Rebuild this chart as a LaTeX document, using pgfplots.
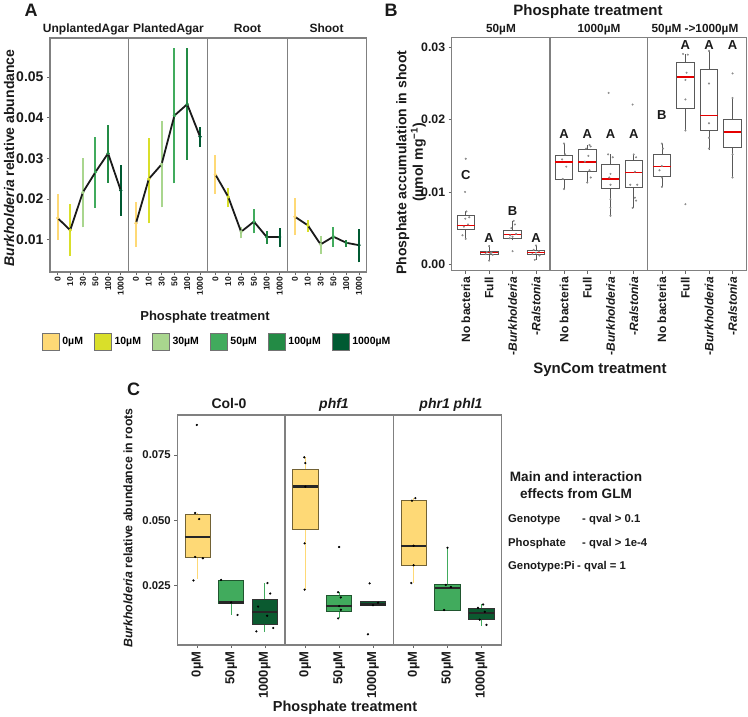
\documentclass[border=0pt]{standalone}
\usepackage{fontspec}
\setmainfont{Liberation Sans}
\usepackage{pgfplots}
\pgfplotsset{compat=1.18}

\definecolor{c0}{HTML}{FED976}
\definecolor{c10}{HTML}{D9DF2A}
\definecolor{c30}{HTML}{A9D68E}
\definecolor{c50}{HTML}{41AB5D}
\definecolor{c100}{HTML}{238B45}
\definecolor{c1000}{HTML}{005A32}
\definecolor{cdark}{HTML}{0B5A30}
\definecolor{frame}{HTML}{808080}
\definecolor{txt}{HTML}{1A1A1A}

\newcommand{\fs}[1]{\fontsize{#1}{#1}\selectfont\bfseries}
\newcommand{\eb}[4]{\addplot[draw=#1, line width=2pt, forget plot] coordinates {(#2,#3) (#2,#4)};}
% box: #1 pos, #2 lower whisker, #3 lower quartile, #4 median, #5 upper quartile, #6 upper whisker
\newcommand{\bbox}[6]{%
  \pgfmathsetmacro{\xl}{#1-0.375}\pgfmathsetmacro{\xr}{#1+0.375}%
  \addplot[forget plot, draw=black!65, line width=0.6pt] coordinates {(#1,#2) (#1,#3)};
  \addplot[forget plot, draw=black!65, line width=0.6pt] coordinates {(#1,#5) (#1,#6)};
  \addplot[forget plot, draw=black!65, fill=white, line width=0.8pt] coordinates {(\xl,#3) (\xr,#3) (\xr,#5) (\xl,#5)} -- cycle;
  \addplot[forget plot, draw=red!90!black, line width=1.5pt] coordinates {(\xl,#4) (\xr,#4)};
}
% C box: #1 fill, #2 border, #3 whisker colour, #4 pos, #5 lw, #6 lq, #7 med, #8 uq, #9 uw
\newcommand{\cbox}[9]{%
  \pgfmathsetmacro{\xl}{#4-0.375}\pgfmathsetmacro{\xr}{#4+0.375}%
  \addplot[forget plot, draw=#3, line width=1pt] coordinates {(#4,#5) (#4,#6)};
  \addplot[forget plot, draw=#3, line width=1pt] coordinates {(#4,#8) (#4,#9)};
  \addplot[forget plot, draw=#2, fill=#1, line width=0.7pt] coordinates {(\xl,#6) (\xr,#6) (\xr,#8) (\xl,#8)} -- cycle;
  \addplot[forget plot, draw=black!85, line width=2.3pt] coordinates {(\xl,#7) (\xr,#7)};
}

\pgfplotsset{
  base/.style={scale only axis, anchor=south west,
    axis line style={draw=frame, line width=1.1pt},
    tick style={draw=black!60, line width=0.6pt},
    tick align=outside, major tick length=3pt, tick pos=left,
    scaled ticks=false, every tick label/.append style={text=txt}},
  fa/.style={base, height=234pt, xmin=0.4, xmax=6.6, ymin=0.002, ymax=0.0596,
    xtick={1,2,3,4,5,6}, xticklabels={0,10,30,50,100,1000},
    xticklabel style={rotate=90, anchor=east, font=\fs{8.5}, inner sep=1.5pt}},
  fb/.style={base, height=233.4pt, xmin=0.4, xmax=4.6, ymin=-0.0009, ymax=0.0314,
    xtick={1,2,3,4}, xticklabels={No bacteria, Full, -\textit{Burkholderia}, -\textit{Ralstonia}},
    xticklabel style={rotate=90, anchor=east, font=\fs{12}}},
  fc/.style={base, height=230pt, xmin=0.4, xmax=3.6, ymin=0.0023, ymax=0.0903,
    xtick={1,2,3}, xticklabels={0µM,50µM,1000µM},
    xticklabel style={rotate=90, anchor=east, font=\fs{13}}},
  pts/.style={forget plot, scatter, only marks, mark=*, mark size=1.5pt, scatter src=explicit symbolic,
    scatter/classes={a={draw=c0,fill=c0}, b={draw=c10,fill=c10}, c={draw=c30,fill=c30},
      d={draw=c50,fill=c50}, e={draw=c100,fill=c100}, f={draw=c1000,fill=c1000}}},
  bpts/.style={forget plot, only marks, mark=*, mark size=0.8pt, draw=black!45, fill=black!45},
  cpts/.style={forget plot, only marks, mark=*, mark size=0.9pt, draw=black, fill=black},
}

\begin{document}
\begin{tikzpicture}
\useasboundingbox (0pt,0pt) rectangle (748pt,-716pt);

% ================= PANEL A =================
\begin{axis}[fa, at={(50pt,-272pt)}, width=78.3pt,
  ytick={0.01,0.02,0.03,0.04,0.05}, yticklabels={0.01,0.02,0.03,0.04,0.05},
  yticklabel style={font=\fs{14}},
  legend columns=6,
  legend style={at={(axis description cs:-0.106,-0.299)}, anchor=west, draw=none, fill=none,
    inner sep=0pt, font=\fs{10.5}, nodes={inner xsep=3pt, inner ysep=0pt},
    /tikz/every even column/.append style={column sep=8pt}},
  legend image code/.code={\draw[#1] (0pt,-8.5pt) rectangle (17pt,8.5pt);}]
\addlegendimage{fill=c0, draw=black!55, line width=0.5pt}\addlegendentry{0µM}
\addlegendimage{fill=c10, draw=black!55, line width=0.5pt}\addlegendentry{10µM}
\addlegendimage{fill=c30, draw=black!55, line width=0.5pt}\addlegendentry{30µM}
\addlegendimage{fill=c50, draw=black!55, line width=0.5pt}\addlegendentry{50µM}
\addlegendimage{fill=c100, draw=black!55, line width=0.5pt}\addlegendentry{100µM}
\addlegendimage{fill=c1000, draw=black!55, line width=0.5pt}\addlegendentry{1000µM}
\eb{c0}{1}{0.0099}{0.0211}
\eb{c10}{2}{0.0059}{0.0187}
\eb{c30}{3}{0.0130}{0.0300}
\eb{c50}{4}{0.0178}{0.0353}
\eb{c100}{5}{0.0240}{0.0383}
\eb{c1000}{6}{0.0158}{0.0283}
\addplot[forget plot, txt, line width=1.8pt] coordinates {(1,0.0153) (2,0.0123) (3,0.0216) (4,0.0266) (5,0.0312) (6,0.0221)};
\addplot[pts] coordinates {(1,0.0153)[a] (2,0.0123)[b] (3,0.0216)[c] (4,0.0266)[d] (5,0.0312)[e] (6,0.0221)[f]};
\end{axis}

\begin{axis}[fa, at={(128.3pt,-272pt)}, width=79.4pt, ytick=\empty]
\eb{c0}{1}{0.0081}{0.0193}
\eb{c10}{2}{0.0140}{0.0350}
\eb{c30}{3}{0.0179}{0.0392}
\eb{c50}{4}{0.0238}{0.0571}
\eb{c100}{5}{0.0296}{0.0571}
\eb{c1000}{6}{0.0328}{0.0378}
\addplot[forget plot, txt, line width=1.8pt] coordinates {(1,0.0140) (2,0.0249) (3,0.0285) (4,0.0405) (5,0.0433) (6,0.0353)};
\addplot[pts] coordinates {(1,0.0140)[a] (2,0.0249)[b] (3,0.0285)[c] (4,0.0405)[d] (5,0.0433)[e] (6,0.0353)[f]};
\end{axis}

\begin{axis}[fa, at={(207.7pt,-272pt)}, width=79.6pt, ytick=\empty]
\eb{c0}{1}{0.0213}{0.0308}
\eb{c10}{2}{0.0180}{0.0226}
\eb{c30}{3}{0.0103}{0.0131}
\eb{c50}{4}{0.0115}{0.0175}
\eb{c100}{5}{0.0090}{0.0121}
\eb{c1000}{6}{0.0082}{0.0129}
\addplot[forget plot, txt, line width=1.8pt] coordinates {(1,0.0260) (2,0.0205) (3,0.0119) (4,0.0144) (5,0.0106) (6,0.0106)};
\addplot[pts] coordinates {(1,0.0260)[a] (2,0.0205)[b] (3,0.0119)[c] (4,0.0144)[d] (5,0.0106)[e] (6,0.0106)[f]};
\end{axis}

\begin{axis}[fa, at={(287.3pt,-272pt)}, width=79.4pt, ytick=\empty]
\eb{c0}{1}{0.0111}{0.0201}
\eb{c10}{2}{0.0119}{0.0149}
\eb{c30}{3}{0.0064}{0.0108}
\eb{c50}{4}{0.0082}{0.0130}
\eb{c100}{5}{0.0082}{0.0100}
\eb{c1000}{6}{0.0044}{0.0126}
\addplot[forget plot, txt, line width=1.8pt] coordinates {(1,0.0156) (2,0.0135) (3,0.0088) (4,0.0107) (5,0.0092) (6,0.0086)};
\addplot[pts] coordinates {(1,0.0156)[a] (2,0.0135)[b] (3,0.0088)[c] (4,0.0107)[d] (5,0.0092)[e] (6,0.0086)[f]};
\end{axis}

\node[font=\fs{18}, text=txt] at (31pt,-10.5pt) {A};
\node[font=\fs{12}, text=txt, anchor=base] at (86pt,-32.5pt) {UnplantedAgar};
\node[font=\fs{12}, text=txt, anchor=base] at (168.5pt,-32.5pt) {PlantedAgar};
\node[font=\fs{12}, text=txt, anchor=base] at (247.5pt,-32.5pt) {Root};
\node[font=\fs{12}, text=txt, anchor=base] at (326.5pt,-32.5pt) {Shoot};
\node[font=\fs{14}, text=txt, rotate=90] at (9pt,-158pt) {\textit{Burkholderia} relative abundance};
\node[font=\fs{13}, text=txt, anchor=base] at (205pt,-320pt) {Phosphate treatment};

% ================= PANEL B =================
\begin{axis}[fb, at={(451.7pt,-270.7pt)}, width=98.3pt,
  ytick={0,0.01,0.02,0.03}, yticklabels={0.00,0.01,0.02,0.03}, yticklabel style={font=\fs{12.3}}]
\bbox{1}{0.00346}{0.00484}{0.00534}{0.00682}{0.0073}
\bbox{2}{0.0006}{0.0014}{0.0016}{0.0018}{0.0026}
\bbox{3}{0.0033}{0.0036}{0.0041}{0.00465}{0.0060}
\bbox{4}{0.0006}{0.0013}{0.00165}{0.00195}{0.0026}
\addplot[bpts] coordinates {(1.0,0.0146) (0.97,0.0100) (1.03,0.0073) (1.15,0.0065) (0.98,0.0063) (1.1,0.0055) (0.92,0.0052) (0.86,0.0040) (1.0,0.0035)
 (2.0,0.0025) (1.9,0.0017) (2.1,0.0016) (2.05,0.0015) (1.85,0.0014) (2.15,0.0013) (2.0,0.0005)
 (3.05,0.0060) (3.1,0.0055) (2.95,0.0050) (3.15,0.0042) (2.9,0.0040) (3.0,0.0038) (2.88,0.0036) (3.0,0.0018)
 (4.0,0.0026) (3.9,0.0020) (4.12,0.0018) (4.0,0.0016) (3.85,0.0014) (4.15,0.0012) (3.95,0.0006)};
\node[font=\fs{13}, text=txt] at (axis cs:1,0.0123) {C};
\node[font=\fs{13}, text=txt] at (axis cs:2,0.0036) {A};
\node[font=\fs{13}, text=txt] at (axis cs:3,0.0073) {B};
\node[font=\fs{13}, text=txt] at (axis cs:4,0.0036) {A};
\end{axis}

\begin{axis}[fb, at={(550pt,-270.7pt)}, width=97.7pt, ytick=\empty]
\bbox{1}{0.0104}{0.01176}{0.01415}{0.0150}{0.0167}
\bbox{2}{0.0112}{0.0129}{0.01415}{0.0159}{0.0165}
\bbox{3}{0.0067}{0.0105}{0.0118}{0.01378}{0.0152}
\bbox{4}{0.0078}{0.0106}{0.0127}{0.01433}{0.0151}
\addplot[bpts] coordinates {(1.0,0.0167) (1.05,0.0152) (0.92,0.0145) (1.1,0.0135) (0.95,0.0118) (1.0,0.0104)
 (2.1,0.0165) (2.15,0.0163) (1.95,0.0160) (2.05,0.0150) (1.9,0.0142) (2.1,0.0130) (2.15,0.0120) (2.0,0.0113)
 (2.92,0.0237) (2.9,0.0152) (3.1,0.0148) (3.0,0.0125) (2.95,0.0120) (3.0,0.0110) (3.0,0.0090) (3.0,0.0078) (3.0,0.0067)
 (3.95,0.0221) (4.0,0.0152) (4.1,0.0148) (4.05,0.0128) (3.85,0.0110) (4.15,0.0110) (4.05,0.0092) (4.1,0.0088) (3.95,0.0078)};
\node[font=\fs{13}, text=txt] at (axis cs:1,0.0180) {A};
\node[font=\fs{13}, text=txt] at (axis cs:2,0.0180) {A};
\node[font=\fs{13}, text=txt] at (axis cs:3,0.0180) {A};
\node[font=\fs{13}, text=txt] at (axis cs:4,0.0180) {A};
\end{axis}

\begin{axis}[fb, at={(647.7pt,-270.7pt)}, width=99pt, ytick=\empty]
\bbox{1}{0.0107}{0.0122}{0.0135}{0.0152}{0.0167}
\bbox{2}{0.0185}{0.0216}{0.0259}{0.0279}{0.0291}
\bbox{3}{0.0158}{0.0185}{0.0206}{0.0270}{0.0295}
\bbox{4}{0.0120}{0.0162}{0.0183}{0.0201}{0.0230}
\addplot[bpts] coordinates {(1.0,0.0167) (1.05,0.0160) (1.0,0.0136) (0.9,0.0130) (1.0,0.0120) (1.0,0.0107)
 (1.9,0.0291) (2.1,0.0290) (2.05,0.0265) (2.0,0.0255) (2.0,0.0228) (2.0,0.0185) (2.0,0.0083)
 (3.0,0.0295) (3.0,0.0250) (3.0,0.0195) (3.0,0.0175) (3.0,0.0160)
 (4.0,0.0264) (4.0,0.0230) (4.0,0.0152) (4.0,0.0120)};
\node[font=\fs{13}, text=txt] at (axis cs:1,0.0207) {B};
\node[font=\fs{13}, text=txt] at (axis cs:2,0.0303) {A};
\node[font=\fs{13}, text=txt] at (axis cs:3,0.0303) {A};
\node[font=\fs{13}, text=txt] at (axis cs:4,0.0303) {A};
\end{axis}

\node[font=\fs{18}, text=txt] at (391pt,-10.5pt) {B};
\node[font=\fs{15}, text=txt, anchor=base] at (588pt,-15.5pt) {Phosphate treatment};
\node[font=\fs{11.8}, text=txt, anchor=base] at (501pt,-32pt) {50µM};
\node[font=\fs{11.8}, text=txt, anchor=base] at (599pt,-32pt) {1000µM};
\node[font=\fs{11.8}, text=txt, anchor=base] at (695pt,-32pt) {50µM ->1000µM};
\node[font=\fontsize{14}{16.5}\selectfont\bfseries, text=txt, rotate=90, align=center] at (411pt,-162.5pt) {Phosphate accumulation in shoot\\(µmol mg\textsuperscript{−1})};
\node[font=\fs{15}, text=txt, anchor=base] at (600pt,-373pt) {SynCom treatment};

% ================= PANEL C =================
\begin{axis}[fc, at={(177.3pt,-645pt)}, width=107.7pt,
  ytick={0.025,0.05,0.075}, yticklabels={0.025,0.050,0.075}, yticklabel style={font=\fs{11.3}}]
\cbox{c0}{c0!45!black}{c0}{1}{0.0276}{0.0359}{0.0435}{0.0522}{0.0528}
\cbox{c50}{c50!50!black}{c50}{2}{0.0138}{0.0183}{0.0186}{0.0272}{0.0272}
\cbox{cdark}{black!80}{c50}{3}{0.0072}{0.0102}{0.0150}{0.0198}{0.0261}
\addplot[cpts] coordinates {(0.98,0.0865) (0.93,0.0528) (1.05,0.0505) (0.93,0.0360) (1.16,0.0355) (0.88,0.0270)
 (1.7,0.0272) (2.0,0.0186) (2.19,0.0138)
 (3.08,0.0260) (3.16,0.0220) (2.8,0.0170) (3.07,0.0135) (3.25,0.0088) (2.75,0.0075)};
\end{axis}

\begin{axis}[fc, at={(285pt,-645pt)}, width=108.3pt, ytick=\empty]
\cbox{c0}{c0!45!black}{c0}{1}{0.0235}{0.0466}{0.0629}{0.0697}{0.0741}
\cbox{c50}{c50!50!black}{c50}{2}{0.0125}{0.0150}{0.0172}{0.0212}{0.0225}
\cbox{cdark}{black!80}{c50}{3}{0.0173}{0.0173}{0.0178}{0.0190}{0.0190}
\addplot[cpts] coordinates {(0.97,0.0741) (1.0,0.0719) (1.0,0.0629) (0.98,0.0412) (0.98,0.0235)
 (2.0,0.0398) (1.97,0.0225) (2.05,0.0205) (2.0,0.0172) (2.05,0.0158) (1.97,0.0125)
 (2.9,0.0259) (3.15,0.0185) (3.0,0.0175) (2.85,0.0064)};
\end{axis}

\begin{axis}[fc, at={(393.3pt,-645pt)}, width=108.4pt, ytick=\empty]
\cbox{c0}{c0!45!black}{c0}{1}{0.0260}{0.0328}{0.0403}{0.0575}{0.0585}
\cbox{c50}{c50!50!black}{c50}{2}{0.0157}{0.0157}{0.0242}{0.0254}{0.0395}
\cbox{cdark}{black!80}{c50}{3}{0.0095}{0.0120}{0.0145}{0.0165}{0.0178}
\addplot[cpts] coordinates {(1.05,0.0585) (0.95,0.0575) (1.0,0.0403) (1.0,0.0328) (0.93,0.0260)
 (2.0,0.0395) (1.95,0.0253) (2.1,0.0245) (1.9,0.0157)
 (3.05,0.0178) (2.9,0.0165) (3.1,0.0150) (2.95,0.0120) (3.15,0.0100)};
\end{axis}

\node[font=\fs{18}, text=txt] at (133.5pt,-389pt) {C};
\node[font=\fs{14}, text=txt, anchor=base] at (229pt,-408pt) {Col-0};
\node[font=\fs{14}, text=txt, anchor=base] at (334pt,-408pt) {\textit{phf1}};
\node[font=\fs{14}, text=txt, anchor=base] at (451pt,-408pt) {\textit{phr1 phl1}};
\node[font=\fs{12.3}, text=txt, rotate=90] at (128pt,-528pt) {\textit{Burkholderia} relative abundance in roots};
\node[font=\fs{14.5}, text=txt, anchor=base] at (345pt,-711pt) {Phosphate treatment};

\node[font=\fontsize{13.6}{16.5}\selectfont\bfseries, text=txt, align=center] at (576pt,-485pt) {Main and interaction\\effects from GLM};
\node[font=\fs{11.3}, text=txt, anchor=west, inner sep=0pt] at (508pt,-520pt) {Genotype};
\node[font=\fs{11.3}, text=txt, anchor=west, inner sep=0pt] at (582pt,-520pt) {- qval > 0.1};
\node[font=\fs{11.3}, text=txt, anchor=west, inner sep=0pt] at (508pt,-544pt) {Phosphate};
\node[font=\fs{11.3}, text=txt, anchor=west, inner sep=0pt] at (582pt,-544pt) {- qval > 1e-4};
\node[font=\fs{11.3}, text=txt, anchor=west, inner sep=0pt] at (508pt,-566.5pt) {Genotype:Pi};
\node[font=\fs{11.3}, text=txt, anchor=west, inner sep=0pt] at (577pt,-566.5pt) {- qval = 1};
\end{tikzpicture}
\end{document}
